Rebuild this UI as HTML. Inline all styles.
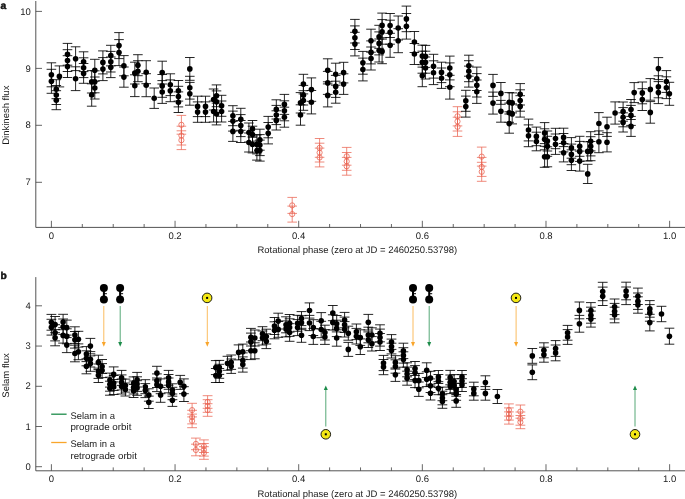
<!DOCTYPE html><html><head><meta charset="utf-8"><title>Figure</title>
<style>html,body{margin:0;padding:0;background:#fff}svg{display:block;text-rendering:geometricPrecision}text{font-family:"Liberation Sans",Arial,Helvetica,sans-serif;fill:#1a1a1a}</style></head><body>
<svg width="685" height="499" viewBox="0 0 685 499">
<rect width="685" height="499" fill="#fff"/>
<g stroke="#404040" stroke-width="0.9" fill="none">
<path d="M35.8 1 V227.4 H685"/>
<path d="M35.8 11.4 h6.2M35.8 68.4 h6.2M35.8 125.3 h6.2M35.8 182.3 h6.2M51.4 227.4 v-6.6M82.31 227.4 v-3.4M113.22 227.4 v-3.4M144.14 227.4 v-3.4M175.05 227.4 v-6.6M205.96 227.4 v-3.4M236.87 227.4 v-3.4M267.78 227.4 v-3.4M298.7 227.4 v-6.6M329.61 227.4 v-3.4M360.52 227.4 v-3.4M391.43 227.4 v-3.4M422.34 227.4 v-6.6M453.26 227.4 v-3.4M484.17 227.4 v-3.4M515.08 227.4 v-3.4M545.99 227.4 v-6.6M576.9 227.4 v-3.4M607.82 227.4 v-3.4M638.73 227.4 v-3.4M669.64 227.4 v-6.6" stroke-width="0.8"/>
</g>
<g font-size="9.5">
<text x="30.8" y="14.5" text-anchor="end">10</text>
<text x="30.8" y="71.5" text-anchor="end">9</text>
<text x="30.8" y="128.4" text-anchor="end">8</text>
<text x="30.8" y="185.4" text-anchor="end">7</text>
<text x="51.4" y="238.8" text-anchor="middle">0</text>
<text x="175.05" y="238.8" text-anchor="middle">0.2</text>
<text x="298.7" y="238.8" text-anchor="middle">0.4</text>
<text x="422.34" y="238.8" text-anchor="middle">0.6</text>
<text x="545.99" y="238.8" text-anchor="middle">0.8</text>
<text x="669.64" y="238.8" text-anchor="middle">1.0</text>
<text x="257.4" y="253.4" textLength="199.8" lengthAdjust="spacingAndGlyphs">Rotational phase (zero at JD = 2460250.53798)</text>
<text transform="translate(8.9 115.2) rotate(-90)" text-anchor="middle">Dinkinesh flux</text>
</g>
<text x="0.5" y="8.8" font-size="10.2" font-weight="bold" fill="#000" stroke="#000" stroke-width="0.45">a</text>
<path d="M181.4 115.4V134.2M176.6 115.4h9.6M176.6 134.2h9.6M181.4 126.2V145M176.6 126.2h9.6M176.6 145h9.6M181.4 130.8V149.6M176.6 130.8h9.6M176.6 149.6h9.6M292.2 197.4V213.4M287.4 197.4h9.6M287.4 213.4h9.6M292.2 206.1V222.1M287.4 206.1h9.6M287.4 222.1h9.6M319.6 138.5V157.3M314.8 138.5h9.6M314.8 157.3h9.6M319.6 143.2V162M314.8 143.2h9.6M314.8 162h9.6M319.6 148.1V166.9M314.8 148.1h9.6M314.8 166.9h9.6M346.7 147.4V165.2M341.9 147.4h9.6M341.9 165.2h9.6M346.7 152.5V170.3M341.9 152.5h9.6M341.9 170.3h9.6M346.7 157.4V175.2M341.9 157.4h9.6M341.9 175.2h9.6M457.5 106.7V125.9M452.7 106.7h9.6M452.7 125.9h9.6M457.5 111.8V131M452.7 111.8h9.6M452.7 131h9.6M457.5 117.2V136.4M452.7 117.2h9.6M452.7 136.4h9.6M481.7 147.1V166.1M476.9 147.1h9.6M476.9 166.1h9.6M481.7 157.4V176.4M476.9 157.4h9.6M476.9 176.4h9.6M481.7 162.3V181.3M476.9 162.3h9.6M476.9 181.3h9.6" stroke="#ea6352" stroke-width="0.75" fill="none"/>
<g fill="none" stroke="#ea6352" stroke-width="0.8">
<circle cx="181.4" cy="124.8" r="2.6"/>
<circle cx="181.4" cy="135.6" r="2.6"/>
<circle cx="181.4" cy="140.2" r="2.6"/>
<circle cx="292.2" cy="205.4" r="2.6"/>
<circle cx="292.2" cy="214.1" r="2.6"/>
<circle cx="319.6" cy="147.9" r="2.6"/>
<circle cx="319.6" cy="152.6" r="2.6"/>
<circle cx="319.6" cy="157.5" r="2.6"/>
<circle cx="346.7" cy="156.3" r="2.6"/>
<circle cx="346.7" cy="161.4" r="2.6"/>
<circle cx="346.7" cy="166.3" r="2.6"/>
<circle cx="457.5" cy="116.3" r="2.6"/>
<circle cx="457.5" cy="121.4" r="2.6"/>
<circle cx="457.5" cy="126.8" r="2.6"/>
<circle cx="481.7" cy="156.6" r="2.6"/>
<circle cx="481.7" cy="166.9" r="2.6"/>
<circle cx="481.7" cy="171.8" r="2.6"/>
</g>
<path d="M51.4 62.8V86.8M46.6 62.8h9.6M46.6 86.8h9.6M51.4 69.3V93.3M46.6 69.3h9.6M46.6 93.3h9.6M56.3 79.7V98.7M51.5 79.7h9.6M51.5 98.7h9.6M56.3 85.5V104.5M51.5 85.5h9.6M51.5 104.5h9.6M56.3 90.7V109.7M51.5 90.7h9.6M51.5 109.7h9.6M59.4 65.9V86.9M54.6 65.9h9.6M54.6 86.9h9.6M67.5 43.4V65.2M62.7 43.4h9.6M62.7 65.2h9.6M67.5 49.7V71.5M62.7 49.7h9.6M62.7 71.5h9.6M67.5 55.7V77.5M62.7 55.7h9.6M62.7 77.5h9.6M75.6 46.8V70.6M70.8 46.8h9.6M70.8 70.6h9.6M75.6 66.8V90.6M70.8 66.8h9.6M70.8 90.6h9.6M83.6 51.8V71.6M78.8 51.8h9.6M78.8 71.6h9.6M83.6 57.8V77.6M78.8 57.8h9.6M78.8 77.6h9.6M83.6 63.5V83.3M78.8 63.5h9.6M78.8 83.3h9.6M91.7 70.6V93M86.9 70.6h9.6M86.9 93h9.6M91.7 83.8V106.2M86.9 83.8h9.6M86.9 106.2h9.6M94.8 59.3V81.3M90 59.3h9.6M90 81.3h9.6M94.8 70.8V92.8M90 70.8h9.6M90 92.8h9.6M94.8 77V99M90 77h9.6M90 99h9.6M102.9 50.9V73.9M98.1 50.9h9.6M98.1 73.9h9.6M102.9 57.6V80.6M98.1 57.6h9.6M98.1 80.6h9.6M110.8 45.3V65.9M106 45.3h9.6M106 65.9h9.6M110.8 51.4V72M106 51.4h9.6M106 72h9.6M110.8 57V77.6M106 57h9.6M106 77.6h9.6M119 32.6V58.6M114.2 32.6h9.6M114.2 58.6h9.6M119 39.6V65.6M114.2 39.6h9.6M114.2 65.6h9.6M123.9 55.6V75.8M119.1 55.6h9.6M119.1 75.8h9.6M123.9 67V87.2M119.1 67h9.6M119.1 87.2h9.6M134.8 62.2V84M130 62.2h9.6M130 84h9.6M134.8 74.8V96.6M130 74.8h9.6M130 96.6h9.6M137.9 54.7V75.7M133.1 54.7h9.6M133.1 75.7h9.6M137.9 60.7V81.7M133.1 60.7h9.6M133.1 81.7h9.6M146.2 60.7V83.7M141.4 60.7h9.6M141.4 83.7h9.6M146.2 73.7V96.7M141.4 73.7h9.6M141.4 96.7h9.6M154.2 88V108.4M149.4 88h9.6M149.4 108.4h9.6M162.2 61.2V84M157.4 61.2h9.6M157.4 84h9.6M162.2 74.5V97.3M157.4 74.5h9.6M157.4 97.3h9.6M162.2 80.6V103.4M157.4 80.6h9.6M157.4 103.4h9.6M170.3 73.8V95.6M165.5 73.8h9.6M165.5 95.6h9.6M170.3 79.9V101.7M165.5 79.9h9.6M165.5 101.7h9.6M178.4 80.5V101.1M173.6 80.5h9.6M173.6 101.1h9.6M178.4 86.3V106.9M173.6 86.3h9.6M173.6 106.9h9.6M178.4 91.9V112.5M173.6 91.9h9.6M173.6 112.5h9.6M189.8 57.5V80.3M185 57.5h9.6M185 80.3h9.6M189.8 76.3V99.1M185 76.3h9.6M185 99.1h9.6M189.8 82.4V105.2M185 82.4h9.6M185 105.2h9.6M197.6 96.2V116.6M192.8 96.2h9.6M192.8 116.6h9.6M197.6 101.9V122.3M192.8 101.9h9.6M192.8 122.3h9.6M205.5 96.2V116.6M200.7 96.2h9.6M200.7 116.6h9.6M205.5 101.9V122.3M200.7 101.9h9.6M200.7 122.3h9.6M213.6 89V110M208.8 89h9.6M208.8 110h9.6M213.6 101V122M208.8 101h9.6M208.8 122h9.6M216.5 84.9V106.7M211.7 84.9h9.6M211.7 106.7h9.6M216.5 90.9V112.7M211.7 90.9h9.6M211.7 112.7h9.6M216.5 103.1V124.9M211.7 103.1h9.6M211.7 124.9h9.6M221.6 95.3V116.3M216.8 95.3h9.6M216.8 116.3h9.6M221.6 101V122M216.8 101h9.6M216.8 122h9.6M232.9 105.7V125.7M228.1 105.7h9.6M228.1 125.7h9.6M232.9 111.1V131.1M228.1 111.1h9.6M228.1 131.1h9.6M232.9 121.4V141.4M228.1 121.4h9.6M228.1 141.4h9.6M240.8 108.3V130.3M236 108.3h9.6M236 130.3h9.6M240.8 114.6V136.6M236 114.6h9.6M236 136.6h9.6M240.8 120.5V142.5M236 120.5h9.6M236 142.5h9.6M248.9 123V142M244.1 123h9.6M244.1 142h9.6M248.9 133V152M244.1 133h9.6M244.1 152h9.6M252.5 120.5V137.3M247.7 120.5h9.6M247.7 137.3h9.6M252.5 126.2V143M247.7 126.2h9.6M247.7 143h9.6M252.5 136.1V152.9M247.7 136.1h9.6M247.7 152.9h9.6M256.9 134.9V153.9M252.1 134.9h9.6M252.1 153.9h9.6M256.9 141.1V160.1M252.1 141.1h9.6M252.1 160.1h9.6M259.9 129.2V150.2M255.1 129.2h9.6M255.1 150.2h9.6M259.9 134.6V155.6M255.1 134.6h9.6M255.1 155.6h9.6M259.9 140.1V161.1M255.1 140.1h9.6M255.1 161.1h9.6M268.2 116.4V137.8M263.4 116.4h9.6M263.4 137.8h9.6M268.2 122.5V143.9M263.4 122.5h9.6M263.4 143.9h9.6M276.3 99.8V119M271.5 99.8h9.6M271.5 119h9.6M276.3 105.4V124.6M271.5 105.4h9.6M271.5 124.6h9.6M276.3 110.8V130M271.5 110.8h9.6M271.5 130h9.6M284.4 94.4V114.4M279.6 94.4h9.6M279.6 114.4h9.6M284.4 100.8V120.8M279.6 100.8h9.6M279.6 120.8h9.6M284.4 107.2V127.2M279.6 107.2h9.6M279.6 127.2h9.6M300.5 92.6V113M295.7 92.6h9.6M295.7 113h9.6M300.5 104.8V125.2M295.7 104.8h9.6M295.7 125.2h9.6M303.4 74.3V93.9M298.6 74.3h9.6M298.6 93.9h9.6M303.4 85.4V105M298.6 85.4h9.6M298.6 105h9.6M303.4 90.7V110.3M298.6 90.7h9.6M298.6 110.3h9.6M311.4 77.9V101.3M306.6 77.9h9.6M306.6 101.3h9.6M311.4 90.5V113.9M306.6 90.5h9.6M306.6 113.9h9.6M327.7 58.8V81.8M322.9 58.8h9.6M322.9 81.8h9.6M327.7 71.4V94.4M322.9 71.4h9.6M322.9 94.4h9.6M327.7 83.9V106.9M322.9 83.9h9.6M322.9 106.9h9.6M335.7 63.2V85.2M330.9 63.2h9.6M330.9 85.2h9.6M335.7 75.4V97.4M330.9 75.4h9.6M330.9 97.4h9.6M335.7 81.2V103.2M330.9 81.2h9.6M330.9 103.2h9.6M343.6 62.3V82.9M338.8 62.3h9.6M338.8 82.9h9.6M343.6 73.8V94.4M338.8 73.8h9.6M338.8 94.4h9.6M354.9 19.4V43M350.1 19.4h9.6M350.1 43h9.6M354.9 25.9V49.5M350.1 25.9h9.6M350.1 49.5h9.6M354.9 32.3V55.9M350.1 32.3h9.6M350.1 55.9h9.6M362.9 51.4V74.2M358.1 51.4h9.6M358.1 74.2h9.6M362.9 58.1V80.9M358.1 58.1h9.6M358.1 80.9h9.6M371 29.2V52.2M366.2 29.2h9.6M366.2 52.2h9.6M371 40.9V63.9M366.2 40.9h9.6M366.2 63.9h9.6M371 47V70M366.2 47h9.6M366.2 70h9.6M379.1 25.3V48.3M374.3 25.3h9.6M374.3 48.3h9.6M379.1 31.9V54.9M374.3 31.9h9.6M374.3 54.9h9.6M379.1 39V62M374.3 39h9.6M374.3 62h9.6M382.1 13.1V37.7M377.3 13.1h9.6M377.3 37.7h9.6M382.1 19.6V44.2M377.3 19.6h9.6M377.3 44.2h9.6M382.1 39.1V63.7M377.3 39.1h9.6M377.3 63.7h9.6M390.1 13.5V37.5M385.3 13.5h9.6M385.3 37.5h9.6M390.1 20.2V44.2M385.3 20.2h9.6M385.3 44.2h9.6M390.1 33.3V57.3M385.3 33.3h9.6M385.3 57.3h9.6M398.2 16V40M393.4 16h9.6M393.4 40h9.6M398.2 28.7V52.7M393.4 28.7h9.6M393.4 52.7h9.6M406.4 6.1V31.7M401.6 6.1h9.6M401.6 31.7h9.6M406.4 13.5V39.1M401.6 13.5h9.6M401.6 39.1h9.6M414.4 31.5V52.5M409.6 31.5h9.6M409.6 52.5h9.6M414.4 43.5V64.5M409.6 43.5h9.6M409.6 64.5h9.6M422.3 45.1V67.1M417.5 45.1h9.6M417.5 67.1h9.6M422.3 51.2V73.2M417.5 51.2h9.6M417.5 73.2h9.6M422.3 64.7V86.7M417.5 64.7h9.6M417.5 86.7h9.6M425.5 45.4V67.4M420.7 45.4h9.6M420.7 67.4h9.6M425.5 51.2V73.2M420.7 51.2h9.6M420.7 73.2h9.6M425.5 57V79M420.7 57h9.6M420.7 79h9.6M433.5 54.3V78.1M428.7 54.3h9.6M428.7 78.1h9.6M433.5 60.8V84.6M428.7 60.8h9.6M428.7 84.6h9.6M441.5 62.2V82.6M436.7 62.2h9.6M436.7 82.6h9.6M441.5 68V88.4M436.7 68h9.6M436.7 88.4h9.6M449.8 56.1V79.9M445 56.1h9.6M445 79.9h9.6M449.8 62.9V86.7M445 62.9h9.6M445 86.7h9.6M449.8 75.3V99.1M445 75.3h9.6M445 99.1h9.6M465.8 90.3V111.3M461 90.3h9.6M461 111.3h9.6M465.8 96.1V117.1M461 96.1h9.6M461 117.1h9.6M468.8 55.2V76.2M464 55.2h9.6M464 76.2h9.6M468.8 60.7V81.7M464 60.7h9.6M464 81.7h9.6M468.8 66.1V87.1M464 66.1h9.6M464 87.1h9.6M476.8 67.1V90.5M472 67.1h9.6M472 90.5h9.6M476.8 73.6V97M472 73.6h9.6M472 97h9.6M476.8 80V103.4M472 80h9.6M472 103.4h9.6M493 74.4V96.4M488.2 74.4h9.6M488.2 96.4h9.6M493 92.1V114.1M488.2 92.1h9.6M488.2 114.1h9.6M500.9 82.5V104.3M496.1 82.5h9.6M496.1 104.3h9.6M500.9 100.4V122.2M496.1 100.4h9.6M496.1 122.2h9.6M509.2 92.6V111.8M504.4 92.6h9.6M504.4 111.8h9.6M509.2 103.1V122.3M504.4 103.1h9.6M504.4 122.3h9.6M509.2 114V133.2M504.4 114h9.6M504.4 133.2h9.6M512.2 92.9V112.9M507.4 92.9h9.6M507.4 112.9h9.6M512.2 103.9V123.9M507.4 103.9h9.6M507.4 123.9h9.6M520.2 83.6V105M515.4 83.6h9.6M515.4 105h9.6M520.2 89.8V111.2M515.4 89.8h9.6M515.4 111.2h9.6M520.2 95.7V117.1M515.4 95.7h9.6M515.4 117.1h9.6M528.5 119.1V140.9M523.7 119.1h9.6M523.7 140.9h9.6M528.5 124.9V146.7M523.7 124.9h9.6M523.7 146.7h9.6M536.4 127.1V145.7M531.6 127.1h9.6M531.6 145.7h9.6M536.4 132.2V150.8M531.6 132.2h9.6M531.6 150.8h9.6M544.6 122.6V143.6M539.8 122.6h9.6M539.8 143.6h9.6M544.6 128.8V149.8M539.8 128.8h9.6M539.8 149.8h9.6M544.6 146.3V167.3M539.8 146.3h9.6M539.8 167.3h9.6M547.4 131V151M542.6 131h9.6M542.6 151h9.6M547.4 136.3V156.3M542.6 136.3h9.6M542.6 156.3h9.6M547.4 146.8V166.8M542.6 146.8h9.6M542.6 166.8h9.6M555.5 128.3V148.7M550.7 128.3h9.6M550.7 148.7h9.6M555.5 134V154.4M550.7 134h9.6M550.7 154.4h9.6M563.6 128.2V146.6M558.8 128.2h9.6M558.8 146.6h9.6M563.6 133.5V151.9M558.8 133.5h9.6M558.8 151.9h9.6M563.6 143.5V161.9M558.8 143.5h9.6M558.8 161.9h9.6M571.4 137.6V158.2M566.6 137.6h9.6M566.6 158.2h9.6M571.4 144.1V164.7M566.6 144.1h9.6M566.6 164.7h9.6M571.4 149.9V170.5M566.6 149.9h9.6M566.6 170.5h9.6M579.7 136.3V156.3M574.9 136.3h9.6M574.9 156.3h9.6M579.7 141.4V161.4M574.9 141.4h9.6M574.9 161.4h9.6M579.7 151.1V171.1M574.9 151.1h9.6M574.9 171.1h9.6M587.7 141.8V161M582.9 141.8h9.6M582.9 161h9.6M587.7 164.3V183.5M582.9 164.3h9.6M582.9 183.5h9.6M590.7 131.7V150.9M585.9 131.7h9.6M585.9 150.9h9.6M590.7 136.7V155.9M585.9 136.7h9.6M585.9 155.9h9.6M590.7 141.5V160.7M585.9 141.5h9.6M585.9 160.7h9.6M598.9 112.6V134.4M594.1 112.6h9.6M594.1 134.4h9.6M598.9 130.9V152.7M594.1 130.9h9.6M594.1 152.7h9.6M607 117.2V136.4M602.2 117.2h9.6M602.2 136.4h9.6M607 132.7V151.9M602.2 132.7h9.6M602.2 151.9h9.6M615.1 101.9V124.1M610.3 101.9h9.6M610.3 124.1h9.6M623.1 102V121.2M618.3 102h9.6M618.3 121.2h9.6M623.1 107.6V126.8M618.3 107.6h9.6M618.3 126.8h9.6M623.1 112.8V132M618.3 112.8h9.6M618.3 132h9.6M631 99.5V119.5M626.2 99.5h9.6M626.2 119.5h9.6M631 105.4V125.4M626.2 105.4h9.6M626.2 125.4h9.6M631 116.4V136.4M626.2 116.4h9.6M626.2 136.4h9.6M634.2 82.6V102.6M629.4 82.6h9.6M629.4 102.6h9.6M642.3 82V103.8M637.5 82h9.6M637.5 103.8h9.6M642.3 88.7V110.5M637.5 88.7h9.6M637.5 110.5h9.6M650.3 78.6V100.2M645.5 78.6h9.6M645.5 100.2h9.6M650.3 101.6V123.2M645.5 101.6h9.6M645.5 123.2h9.6M658.4 57.6V79.6M653.6 57.6h9.6M653.6 79.6h9.6M658.4 75.8V97.8M653.6 75.8h9.6M653.6 97.8h9.6M658.4 81.6V103.6M653.6 81.6h9.6M653.6 103.6h9.6M666.4 70.6V92.4M661.6 70.6h9.6M661.6 92.4h9.6M666.4 76.8V98.6M661.6 76.8h9.6M661.6 98.6h9.6M669.4 82.3V105.3M664.6 82.3h9.6M664.6 105.3h9.6" stroke="#000" stroke-width="0.85" fill="none"/>
<g fill="#000">
<circle cx="51.4" cy="74.8" r="2.8"/>
<circle cx="51.4" cy="81.3" r="2.8"/>
<circle cx="56.3" cy="89.2" r="2.8"/>
<circle cx="56.3" cy="95" r="2.8"/>
<circle cx="56.3" cy="100.2" r="2.8"/>
<circle cx="59.4" cy="76.4" r="2.8"/>
<circle cx="67.5" cy="54.3" r="2.8"/>
<circle cx="67.5" cy="60.6" r="2.8"/>
<circle cx="67.5" cy="66.6" r="2.8"/>
<circle cx="75.6" cy="58.7" r="2.8"/>
<circle cx="75.6" cy="78.7" r="2.8"/>
<circle cx="83.6" cy="61.7" r="2.8"/>
<circle cx="83.6" cy="67.7" r="2.8"/>
<circle cx="83.6" cy="73.4" r="2.8"/>
<circle cx="91.7" cy="81.8" r="2.8"/>
<circle cx="91.7" cy="95" r="2.8"/>
<circle cx="94.8" cy="70.3" r="2.8"/>
<circle cx="94.8" cy="81.8" r="2.8"/>
<circle cx="94.8" cy="88" r="2.8"/>
<circle cx="102.9" cy="62.4" r="2.8"/>
<circle cx="102.9" cy="69.1" r="2.8"/>
<circle cx="110.8" cy="55.6" r="2.8"/>
<circle cx="110.8" cy="61.7" r="2.8"/>
<circle cx="110.8" cy="67.3" r="2.8"/>
<circle cx="119" cy="45.6" r="2.8"/>
<circle cx="119" cy="52.6" r="2.8"/>
<circle cx="123.9" cy="65.7" r="2.8"/>
<circle cx="123.9" cy="77.1" r="2.8"/>
<circle cx="134.8" cy="73.1" r="2.8"/>
<circle cx="134.8" cy="85.7" r="2.8"/>
<circle cx="137.9" cy="65.2" r="2.8"/>
<circle cx="137.9" cy="71.2" r="2.8"/>
<circle cx="146.2" cy="72.2" r="2.8"/>
<circle cx="146.2" cy="85.2" r="2.8"/>
<circle cx="154.2" cy="98.2" r="2.8"/>
<circle cx="162.2" cy="72.6" r="2.8"/>
<circle cx="162.2" cy="85.9" r="2.8"/>
<circle cx="162.2" cy="92" r="2.8"/>
<circle cx="170.3" cy="84.7" r="2.8"/>
<circle cx="170.3" cy="90.8" r="2.8"/>
<circle cx="178.4" cy="90.8" r="2.8"/>
<circle cx="178.4" cy="96.6" r="2.8"/>
<circle cx="178.4" cy="102.2" r="2.8"/>
<circle cx="189.8" cy="68.9" r="2.8"/>
<circle cx="189.8" cy="87.7" r="2.8"/>
<circle cx="189.8" cy="93.8" r="2.8"/>
<circle cx="197.6" cy="106.4" r="2.8"/>
<circle cx="197.6" cy="112.1" r="2.8"/>
<circle cx="205.5" cy="106.4" r="2.8"/>
<circle cx="205.5" cy="112.1" r="2.8"/>
<circle cx="213.6" cy="99.5" r="2.8"/>
<circle cx="213.6" cy="111.5" r="2.8"/>
<circle cx="216.5" cy="95.8" r="2.8"/>
<circle cx="216.5" cy="101.8" r="2.8"/>
<circle cx="216.5" cy="114" r="2.8"/>
<circle cx="221.6" cy="105.8" r="2.8"/>
<circle cx="221.6" cy="111.5" r="2.8"/>
<circle cx="232.9" cy="115.7" r="2.8"/>
<circle cx="232.9" cy="121.1" r="2.8"/>
<circle cx="232.9" cy="131.4" r="2.8"/>
<circle cx="240.8" cy="119.3" r="2.8"/>
<circle cx="240.8" cy="125.6" r="2.8"/>
<circle cx="240.8" cy="131.5" r="2.8"/>
<circle cx="248.9" cy="132.5" r="2.8"/>
<circle cx="248.9" cy="142.5" r="2.8"/>
<circle cx="252.5" cy="128.9" r="2.8"/>
<circle cx="252.5" cy="134.6" r="2.8"/>
<circle cx="252.5" cy="144.5" r="2.8"/>
<circle cx="256.9" cy="144.4" r="2.8"/>
<circle cx="256.9" cy="150.6" r="2.8"/>
<circle cx="259.9" cy="139.7" r="2.8"/>
<circle cx="259.9" cy="145.1" r="2.8"/>
<circle cx="259.9" cy="150.6" r="2.8"/>
<circle cx="268.2" cy="127.1" r="2.8"/>
<circle cx="268.2" cy="133.2" r="2.8"/>
<circle cx="276.3" cy="109.4" r="2.8"/>
<circle cx="276.3" cy="115" r="2.8"/>
<circle cx="276.3" cy="120.4" r="2.8"/>
<circle cx="284.4" cy="104.4" r="2.8"/>
<circle cx="284.4" cy="110.8" r="2.8"/>
<circle cx="284.4" cy="117.2" r="2.8"/>
<circle cx="300.5" cy="102.8" r="2.8"/>
<circle cx="300.5" cy="115" r="2.8"/>
<circle cx="303.4" cy="84.1" r="2.8"/>
<circle cx="303.4" cy="95.2" r="2.8"/>
<circle cx="303.4" cy="100.5" r="2.8"/>
<circle cx="311.4" cy="89.6" r="2.8"/>
<circle cx="311.4" cy="102.2" r="2.8"/>
<circle cx="327.7" cy="70.3" r="2.8"/>
<circle cx="327.7" cy="82.9" r="2.8"/>
<circle cx="327.7" cy="95.4" r="2.8"/>
<circle cx="335.7" cy="74.2" r="2.8"/>
<circle cx="335.7" cy="86.4" r="2.8"/>
<circle cx="335.7" cy="92.2" r="2.8"/>
<circle cx="343.6" cy="72.6" r="2.8"/>
<circle cx="343.6" cy="84.1" r="2.8"/>
<circle cx="354.9" cy="31.2" r="2.8"/>
<circle cx="354.9" cy="37.7" r="2.8"/>
<circle cx="354.9" cy="44.1" r="2.8"/>
<circle cx="362.9" cy="62.8" r="2.8"/>
<circle cx="362.9" cy="69.5" r="2.8"/>
<circle cx="371" cy="40.7" r="2.8"/>
<circle cx="371" cy="52.4" r="2.8"/>
<circle cx="371" cy="58.5" r="2.8"/>
<circle cx="379.1" cy="36.8" r="2.8"/>
<circle cx="379.1" cy="43.4" r="2.8"/>
<circle cx="379.1" cy="50.5" r="2.8"/>
<circle cx="382.1" cy="25.4" r="2.8"/>
<circle cx="382.1" cy="31.9" r="2.8"/>
<circle cx="382.1" cy="51.4" r="2.8"/>
<circle cx="390.1" cy="25.5" r="2.8"/>
<circle cx="390.1" cy="32.2" r="2.8"/>
<circle cx="390.1" cy="45.3" r="2.8"/>
<circle cx="398.2" cy="28" r="2.8"/>
<circle cx="398.2" cy="40.7" r="2.8"/>
<circle cx="406.4" cy="18.9" r="2.8"/>
<circle cx="406.4" cy="26.3" r="2.8"/>
<circle cx="414.4" cy="42" r="2.8"/>
<circle cx="414.4" cy="54" r="2.8"/>
<circle cx="422.3" cy="56.1" r="2.8"/>
<circle cx="422.3" cy="62.2" r="2.8"/>
<circle cx="422.3" cy="75.7" r="2.8"/>
<circle cx="425.5" cy="56.4" r="2.8"/>
<circle cx="425.5" cy="62.2" r="2.8"/>
<circle cx="425.5" cy="68" r="2.8"/>
<circle cx="433.5" cy="66.2" r="2.8"/>
<circle cx="433.5" cy="72.7" r="2.8"/>
<circle cx="441.5" cy="72.4" r="2.8"/>
<circle cx="441.5" cy="78.2" r="2.8"/>
<circle cx="449.8" cy="68" r="2.8"/>
<circle cx="449.8" cy="74.8" r="2.8"/>
<circle cx="449.8" cy="87.2" r="2.8"/>
<circle cx="465.8" cy="100.8" r="2.8"/>
<circle cx="465.8" cy="106.6" r="2.8"/>
<circle cx="468.8" cy="65.7" r="2.8"/>
<circle cx="468.8" cy="71.2" r="2.8"/>
<circle cx="468.8" cy="76.6" r="2.8"/>
<circle cx="476.8" cy="78.8" r="2.8"/>
<circle cx="476.8" cy="85.3" r="2.8"/>
<circle cx="476.8" cy="91.7" r="2.8"/>
<circle cx="493" cy="85.4" r="2.8"/>
<circle cx="493" cy="103.1" r="2.8"/>
<circle cx="500.9" cy="93.4" r="2.8"/>
<circle cx="500.9" cy="111.3" r="2.8"/>
<circle cx="509.2" cy="102.2" r="2.8"/>
<circle cx="509.2" cy="112.7" r="2.8"/>
<circle cx="509.2" cy="123.6" r="2.8"/>
<circle cx="512.2" cy="102.9" r="2.8"/>
<circle cx="512.2" cy="113.9" r="2.8"/>
<circle cx="520.2" cy="94.3" r="2.8"/>
<circle cx="520.2" cy="100.5" r="2.8"/>
<circle cx="520.2" cy="106.4" r="2.8"/>
<circle cx="528.5" cy="130" r="2.8"/>
<circle cx="528.5" cy="135.8" r="2.8"/>
<circle cx="536.4" cy="136.4" r="2.8"/>
<circle cx="536.4" cy="141.5" r="2.8"/>
<circle cx="544.6" cy="133.1" r="2.8"/>
<circle cx="544.6" cy="139.3" r="2.8"/>
<circle cx="544.6" cy="156.8" r="2.8"/>
<circle cx="547.4" cy="141" r="2.8"/>
<circle cx="547.4" cy="146.3" r="2.8"/>
<circle cx="547.4" cy="156.8" r="2.8"/>
<circle cx="555.5" cy="138.5" r="2.8"/>
<circle cx="555.5" cy="144.2" r="2.8"/>
<circle cx="563.6" cy="137.4" r="2.8"/>
<circle cx="563.6" cy="142.7" r="2.8"/>
<circle cx="563.6" cy="152.7" r="2.8"/>
<circle cx="571.4" cy="147.9" r="2.8"/>
<circle cx="571.4" cy="154.4" r="2.8"/>
<circle cx="571.4" cy="160.2" r="2.8"/>
<circle cx="579.7" cy="146.3" r="2.8"/>
<circle cx="579.7" cy="151.4" r="2.8"/>
<circle cx="579.7" cy="161.1" r="2.8"/>
<circle cx="587.7" cy="151.4" r="2.8"/>
<circle cx="587.7" cy="173.9" r="2.8"/>
<circle cx="590.7" cy="141.3" r="2.8"/>
<circle cx="590.7" cy="146.3" r="2.8"/>
<circle cx="590.7" cy="151.1" r="2.8"/>
<circle cx="598.9" cy="123.5" r="2.8"/>
<circle cx="598.9" cy="141.8" r="2.8"/>
<circle cx="607" cy="126.8" r="2.8"/>
<circle cx="607" cy="142.3" r="2.8"/>
<circle cx="615.1" cy="113" r="2.8"/>
<circle cx="623.1" cy="111.6" r="2.8"/>
<circle cx="623.1" cy="117.2" r="2.8"/>
<circle cx="623.1" cy="122.4" r="2.8"/>
<circle cx="631" cy="109.5" r="2.8"/>
<circle cx="631" cy="115.4" r="2.8"/>
<circle cx="631" cy="126.4" r="2.8"/>
<circle cx="634.2" cy="92.6" r="2.8"/>
<circle cx="642.3" cy="92.9" r="2.8"/>
<circle cx="642.3" cy="99.6" r="2.8"/>
<circle cx="650.3" cy="89.4" r="2.8"/>
<circle cx="650.3" cy="112.4" r="2.8"/>
<circle cx="658.4" cy="68.6" r="2.8"/>
<circle cx="658.4" cy="86.8" r="2.8"/>
<circle cx="658.4" cy="92.6" r="2.8"/>
<circle cx="666.4" cy="81.5" r="2.8"/>
<circle cx="666.4" cy="87.7" r="2.8"/>
<circle cx="669.4" cy="93.8" r="2.8"/>
</g>
<g stroke="#404040" stroke-width="0.9" fill="none">
<path d="M35.8 277.1 V470.8 H685"/>
<path d="M35.8 305.8 h6.2M35.8 346.05 h6.2M35.8 386.3 h6.2M35.8 426.5 h6.2M35.8 466.7 h6.2M51.4 470.8 v-6.6M82.31 470.8 v-3.4M113.22 470.8 v-3.4M144.14 470.8 v-3.4M175.05 470.8 v-6.6M205.96 470.8 v-3.4M236.87 470.8 v-3.4M267.78 470.8 v-3.4M298.7 470.8 v-6.6M329.61 470.8 v-3.4M360.52 470.8 v-3.4M391.43 470.8 v-3.4M422.34 470.8 v-6.6M453.26 470.8 v-3.4M484.17 470.8 v-3.4M515.08 470.8 v-3.4M545.99 470.8 v-6.6M576.9 470.8 v-3.4M607.82 470.8 v-3.4M638.73 470.8 v-3.4M669.64 470.8 v-6.6" stroke-width="0.8"/>
</g>
<g font-size="9.5">
<text x="30.8" y="308.9" text-anchor="end">4</text>
<text x="30.8" y="349.15" text-anchor="end">3</text>
<text x="30.8" y="389.4" text-anchor="end">2</text>
<text x="30.8" y="429.6" text-anchor="end">1</text>
<text x="30.8" y="469.8" text-anchor="end">0</text>
<text x="51.4" y="482.2" text-anchor="middle">0</text>
<text x="175.05" y="482.2" text-anchor="middle">0.2</text>
<text x="298.7" y="482.2" text-anchor="middle">0.4</text>
<text x="422.34" y="482.2" text-anchor="middle">0.6</text>
<text x="545.99" y="482.2" text-anchor="middle">0.8</text>
<text x="669.64" y="482.2" text-anchor="middle">1.0</text>
<text x="257.4" y="496.5" textLength="199.8" lengthAdjust="spacingAndGlyphs">Rotational phase (zero at JD = 2460250.53798)</text>
<text transform="translate(8.9 375.5) rotate(-90)" text-anchor="middle">Selam flux</text>
</g>
<text x="0.5" y="278.9" font-size="10.2" font-weight="bold" fill="#000" stroke="#000" stroke-width="0.45">b</text>
<path d="M192.1 403.3V416.9M187.2 403.3h9.8M187.2 416.9h9.8M192.1 410.3V423.9M187.2 410.3h9.8M187.2 423.9h9.8M192.1 414.1V427.7M187.2 414.1h9.8M187.2 427.7h9.8M195.9 438.1V449.7M191 438.1h9.8M191 449.7h9.8M195.9 444.2V455.8M191 444.2h9.8M191 455.8h9.8M203.9 439.9V452.5M199 439.9h9.8M199 452.5h9.8M203.9 443.5V456.1M199 443.5h9.8M199 456.1h9.8M203.9 446.7V459.3M199 446.7h9.8M199 459.3h9.8M207.6 395.7V408.3M202.7 395.7h9.8M202.7 408.3h9.8M207.6 399.7V412.3M202.7 399.7h9.8M202.7 412.3h9.8M207.6 403.7V416.3M202.7 403.7h9.8M202.7 416.3h9.8M508.9 403.9V416.1M504 403.9h9.8M504 416.1h9.8M508.9 407.9V420.1M504 407.9h9.8M504 420.1h9.8M508.9 411.9V424.1M504 411.9h9.8M504 424.1h9.8M520.4 405V418.2M515.5 405h9.8M515.5 418.2h9.8M520.4 412V425.2M515.5 412h9.8M515.5 425.2h9.8M520.4 415.5V428.7M515.5 415.5h9.8M515.5 428.7h9.8" stroke="#ea6352" stroke-width="0.75" fill="none"/>
<g fill="none" stroke="#ea6352" stroke-width="0.8">
<circle cx="192.1" cy="410.1" r="2.6"/>
<circle cx="192.1" cy="417.1" r="2.6"/>
<circle cx="192.1" cy="420.9" r="2.6"/>
<circle cx="195.9" cy="443.9" r="2.6"/>
<circle cx="195.9" cy="450" r="2.6"/>
<circle cx="203.9" cy="446.2" r="2.6"/>
<circle cx="203.9" cy="449.8" r="2.6"/>
<circle cx="203.9" cy="453" r="2.6"/>
<circle cx="207.6" cy="402" r="2.6"/>
<circle cx="207.6" cy="406" r="2.6"/>
<circle cx="207.6" cy="410" r="2.6"/>
<circle cx="508.9" cy="410" r="2.6"/>
<circle cx="508.9" cy="414" r="2.6"/>
<circle cx="508.9" cy="418" r="2.6"/>
<circle cx="520.4" cy="411.6" r="2.6"/>
<circle cx="520.4" cy="418.6" r="2.6"/>
<circle cx="520.4" cy="422.1" r="2.6"/>
</g>
<path d="M51.4 314.4V330.2M46.5 314.4h9.8M46.5 330.2h9.8M51.4 319.3V335.1M46.5 319.3h9.8M46.5 335.1h9.8M55.1 316.5V332.7M50.2 316.5h9.8M50.2 332.7h9.8M55.1 324.7V340.9M50.2 324.7h9.8M50.2 340.9h9.8M55.1 329.6V345.8M50.2 329.6h9.8M50.2 345.8h9.8M63.1 314.3V329.7M58.2 314.3h9.8M58.2 329.7h9.8M63.1 319V334.4M58.2 319h9.8M58.2 334.4h9.8M63.1 327.7V343.1M58.2 327.7h9.8M58.2 343.1h9.8M66.8 320.1V335.1M61.9 320.1h9.8M61.9 335.1h9.8M66.8 328.8V343.8M61.9 328.8h9.8M61.9 343.8h9.8M66.8 337.6V352.6M61.9 337.6h9.8M61.9 352.6h9.8M74.9 326.8V343.4M70 326.8h9.8M70 343.4h9.8M74.9 331.5V348.1M70 331.5h9.8M70 348.1h9.8M74.9 345.2V361.8M70 345.2h9.8M70 361.8h9.8M78.4 331.3V347.1M73.5 331.3h9.8M73.5 347.1h9.8M78.4 343.9V359.7M73.5 343.9h9.8M73.5 359.7h9.8M86.4 346.6V361.6M81.5 346.6h9.8M81.5 361.6h9.8M86.4 350.8V365.8M81.5 350.8h9.8M81.5 365.8h9.8M86.4 358.8V373.8M81.5 358.8h9.8M81.5 373.8h9.8M90.4 338.4V353.8M85.5 338.4h9.8M85.5 353.8h9.8M90.4 351.6V367M85.5 351.6h9.8M85.5 367h9.8M90.4 355.9V371.3M85.5 355.9h9.8M85.5 371.3h9.8M98.4 355.2V369.6M93.5 355.2h9.8M93.5 369.6h9.8M98.4 364V378.4M93.5 364h9.8M93.5 378.4h9.8M98.4 368.1V382.5M93.5 368.1h9.8M93.5 382.5h9.8M102.1 359.5V373.5M97.2 359.5h9.8M97.2 373.5h9.8M102.1 363.6V377.6M97.2 363.6h9.8M97.2 377.6h9.8M109.9 373.1V387.1M105 373.1h9.8M105 387.1h9.8M109.9 377.2V391.2M105 377.2h9.8M105 391.2h9.8M109.9 381.2V395.2M105 381.2h9.8M105 395.2h9.8M113.7 366.9V381.9M108.8 366.9h9.8M108.8 381.9h9.8M113.7 375.5V390.5M108.8 375.5h9.8M108.8 390.5h9.8M113.7 379.5V394.5M108.8 379.5h9.8M108.8 394.5h9.8M121.6 370.4V385.4M116.7 370.4h9.8M116.7 385.4h9.8M121.6 374.9V389.9M116.7 374.9h9.8M116.7 389.9h9.8M121.6 379V394M116.7 379h9.8M116.7 394h9.8M125.4 379.1V392.1M120.5 379.1h9.8M120.5 392.1h9.8M125.4 383V396M120.5 383h9.8M120.5 396h9.8M133.6 376.9V389.9M128.7 376.9h9.8M128.7 389.9h9.8M133.6 381V394M128.7 381h9.8M128.7 394h9.8M133.6 384.5V397.5M128.7 384.5h9.8M128.7 397.5h9.8M137.1 372.4V387M132.2 372.4h9.8M132.2 387h9.8M137.1 376.8V391.4M132.2 376.8h9.8M132.2 391.4h9.8M137.1 380.7V395.3M132.2 380.7h9.8M132.2 395.3h9.8M145.3 379.7V393.7M140.4 379.7h9.8M140.4 393.7h9.8M145.3 383.6V397.6M140.4 383.6h9.8M140.4 397.6h9.8M148.8 388.8V401.2M143.9 388.8h9.8M143.9 401.2h9.8M148.8 396.1V408.5M143.9 396.1h9.8M143.9 408.5h9.8M156.9 366.3V379.9M152 366.3h9.8M152 379.9h9.8M156.9 373.9V387.5M152 373.9h9.8M152 387.5h9.8M156.9 378V391.6M152 378h9.8M152 391.6h9.8M160.6 378.9V393.7M155.7 378.9h9.8M155.7 393.7h9.8M160.6 387.5V402.3M155.7 387.5h9.8M155.7 402.3h9.8M168.6 370.4V385.2M163.7 370.4h9.8M163.7 385.2h9.8M168.6 374.5V389.3M163.7 374.5h9.8M163.7 389.3h9.8M168.6 378V392.8M163.7 378h9.8M163.7 392.8h9.8M172.4 383.8V396.2M167.5 383.8h9.8M167.5 396.2h9.8M172.4 387.3V399.7M167.5 387.3h9.8M167.5 399.7h9.8M172.4 394V406.4M167.5 394h9.8M167.5 406.4h9.8M180.2 375.4V389.4M175.3 375.4h9.8M175.3 389.4h9.8M183.9 378.9V393.7M179 378.9h9.8M179 393.7h9.8M183.9 386.7V401.5M179 386.7h9.8M179 401.5h9.8M215.8 360.6V374.6M210.9 360.6h9.8M210.9 374.6h9.8M215.8 368.5V382.5M210.9 368.5h9.8M210.9 382.5h9.8M219.3 360.4V374.4M214.4 360.4h9.8M214.4 374.4h9.8M219.3 364.3V378.3M214.4 364.3h9.8M214.4 378.3h9.8M219.3 368.5V382.5M214.4 368.5h9.8M214.4 382.5h9.8M227.5 356.3V370.3M222.6 356.3h9.8M222.6 370.3h9.8M231.2 355V369.4M226.3 355h9.8M226.3 369.4h9.8M231.2 359V373.4M226.3 359h9.8M226.3 373.4h9.8M238.6 344.9V359.9M233.7 344.9h9.8M233.7 359.9h9.8M242.8 344.1V359.3M237.9 344.1h9.8M237.9 359.3h9.8M242.8 352.9V368.1M237.9 352.9h9.8M237.9 368.1h9.8M242.8 356.9V372.1M237.9 356.9h9.8M237.9 372.1h9.8M250.9 328.4V346M246 328.4h9.8M246 346h9.8M250.9 333.1V350.7M246 333.1h9.8M246 350.7h9.8M250.9 342V359.6M246 342h9.8M246 359.6h9.8M254.8 330V346M249.9 330h9.8M249.9 346h9.8M254.8 342.8V358.8M249.9 342.8h9.8M249.9 358.8h9.8M262.5 326.7V340.7M257.6 326.7h9.8M257.6 340.7h9.8M262.5 331V345M257.6 331h9.8M257.6 345h9.8M266.3 329.2V344M261.4 329.2h9.8M261.4 344h9.8M266.3 333.8V348.6M261.4 333.8h9.8M261.4 348.6h9.8M274.5 317.5V334.5M269.6 317.5h9.8M269.6 334.5h9.8M274.5 321.8V338.8M269.6 321.8h9.8M269.6 338.8h9.8M278.2 313.2V329M273.3 313.2h9.8M273.3 329h9.8M278.2 321.5V337.3M273.3 321.5h9.8M273.3 337.3h9.8M286 316.8V332.8M281.1 316.8h9.8M281.1 332.8h9.8M286 320.9V336.9M281.1 320.9h9.8M281.1 336.9h9.8M289.6 314.5V332.1M284.7 314.5h9.8M284.7 332.1h9.8M289.6 318.8V336.4M284.7 318.8h9.8M284.7 336.4h9.8M289.6 323.7V341.3M284.7 323.7h9.8M284.7 341.3h9.8M297.6 315.3V331.3M292.7 315.3h9.8M292.7 331.3h9.8M297.6 319.6V335.6M292.7 319.6h9.8M292.7 335.6h9.8M301.5 311.6V325.6M296.6 311.6h9.8M296.6 325.6h9.8M301.5 315.7V329.7M296.6 315.7h9.8M296.6 329.7h9.8M301.5 328.3V342.3M296.6 328.3h9.8M296.6 342.3h9.8M309.5 302.9V318.1M304.6 302.9h9.8M304.6 318.1h9.8M309.5 315.4V330.6M304.6 315.4h9.8M304.6 330.6h9.8M313.3 319.7V335.5M308.4 319.7h9.8M308.4 335.5h9.8M313.3 328.6V344.4M308.4 328.6h9.8M308.4 344.4h9.8M321.2 312.6V329M316.3 312.6h9.8M316.3 329h9.8M321.2 321.3V337.7M316.3 321.3h9.8M316.3 337.7h9.8M324.9 325.2V340M320 325.2h9.8M320 340h9.8M324.9 329.6V344.4M320 329.6h9.8M320 344.4h9.8M332.8 305.5V320.7M327.9 305.5h9.8M327.9 320.7h9.8M332.8 314.8V330M327.9 314.8h9.8M327.9 330h9.8M336.7 315.5V331.9M331.8 315.5h9.8M331.8 331.9h9.8M336.7 320.2V336.6M331.8 320.2h9.8M331.8 336.6h9.8M336.7 329.8V346.2M331.8 329.8h9.8M331.8 346.2h9.8M344.6 312.4V327.8M339.7 312.4h9.8M339.7 327.8h9.8M344.6 317.1V332.5M339.7 317.1h9.8M339.7 332.5h9.8M344.6 321.6V337M339.7 321.6h9.8M339.7 337h9.8M348.3 326.2V340.2M343.4 326.2h9.8M343.4 340.2h9.8M348.3 342.4V356.4M343.4 342.4h9.8M343.4 356.4h9.8M356.4 324V339.6M351.5 324h9.8M351.5 339.6h9.8M356.4 328.4V344M351.5 328.4h9.8M351.5 344h9.8M360.3 329.8V345.4M355.4 329.8h9.8M355.4 345.4h9.8M360.3 338.9V354.5M355.4 338.9h9.8M355.4 354.5h9.8M368.3 314.4V330M363.4 314.4h9.8M363.4 330h9.8M368.3 327.2V342.8M363.4 327.2h9.8M363.4 342.8h9.8M368.3 331.9V347.5M363.4 331.9h9.8M363.4 347.5h9.8M371.9 327.8V342.2M367 327.8h9.8M367 342.2h9.8M371.9 336.6V351M367 336.6h9.8M367 351h9.8M380 324.8V341.8M375.1 324.8h9.8M375.1 341.8h9.8M380 329.1V346.1M375.1 329.1h9.8M375.1 346.1h9.8M380 333.5V350.5M375.1 333.5h9.8M375.1 350.5h9.8M383.5 355.4V370.6M378.6 355.4h9.8M378.6 370.6h9.8M383.5 359.5V374.7M378.6 359.5h9.8M378.6 374.7h9.8M391.5 334.6V349.4M386.6 334.6h9.8M386.6 349.4h9.8M391.5 339.1V353.9M386.6 339.1h9.8M386.6 353.9h9.8M391.5 343.2V358M386.6 343.2h9.8M386.6 358h9.8M395.4 355.7V369.1M390.5 355.7h9.8M390.5 369.1h9.8M395.4 359.8V373.2M390.5 359.8h9.8M390.5 373.2h9.8M395.4 368V381.4M390.5 368h9.8M390.5 381.4h9.8M403.4 343.2V358.6M398.5 343.2h9.8M398.5 358.6h9.8M403.4 347.7V363.1M398.5 347.7h9.8M398.5 363.1h9.8M403.4 351.8V367.2M398.5 351.8h9.8M398.5 367.2h9.8M407.1 362.8V376.8M402.2 362.8h9.8M402.2 376.8h9.8M407.1 367.1V381.1M402.2 367.1h9.8M402.2 381.1h9.8M407.1 371.2V385.2M402.2 371.2h9.8M402.2 385.2h9.8M415 361.5V375.5M410.1 361.5h9.8M410.1 375.5h9.8M415 365.6V379.6M410.1 365.6h9.8M410.1 379.6h9.8M415 373.6V387.6M410.1 373.6h9.8M410.1 387.6h9.8M418.8 373.4V387.8M413.9 373.4h9.8M413.9 387.8h9.8M418.8 382V396.4M413.9 382h9.8M413.9 396.4h9.8M426.7 362.8V377.6M421.8 362.8h9.8M421.8 377.6h9.8M426.7 371.8V386.6M421.8 371.8h9.8M421.8 386.6h9.8M430.5 371.3V384.9M425.6 371.3h9.8M425.6 384.9h9.8M430.5 378.9V392.5M425.6 378.9h9.8M425.6 392.5h9.8M430.5 386.4V400M425.6 386.4h9.8M425.6 400h9.8M438.4 370.5V383.5M433.5 370.5h9.8M433.5 383.5h9.8M438.4 374.5V387.5M433.5 374.5h9.8M433.5 387.5h9.8M438.4 381.7V394.7M433.5 381.7h9.8M433.5 394.7h9.8M442.4 387.1V400.7M437.5 387.1h9.8M437.5 400.7h9.8M442.4 391.2V404.8M437.5 391.2h9.8M437.5 404.8h9.8M442.4 394.7V408.3M437.5 394.7h9.8M437.5 408.3h9.8M450.2 370.4V384.8M445.3 370.4h9.8M445.3 384.8h9.8M450.2 375V389.4M445.3 375h9.8M445.3 389.4h9.8M450.2 379.2V393.6M445.3 379.2h9.8M445.3 393.6h9.8M454.1 374.6V388.6M449.2 374.6h9.8M449.2 388.6h9.8M454.1 378.7V392.7M449.2 378.7h9.8M449.2 392.7h9.8M456.2 383.4V396.2M451.3 383.4h9.8M451.3 396.2h9.8M456.2 387.5V400.3M451.3 387.5h9.8M451.3 400.3h9.8M456.2 394.5V407.3M451.3 394.5h9.8M451.3 407.3h9.8M462 370.5V383.3M457.1 370.5h9.8M457.1 383.3h9.8M462 374.6V387.4M457.1 374.6h9.8M457.1 387.4h9.8M462 378.7V391.5M457.1 378.7h9.8M457.1 391.5h9.8M473.8 382.2V395.8M468.9 382.2h9.8M468.9 395.8h9.8M473.8 386.6V400.2M468.9 386.6h9.8M468.9 400.2h9.8M485.4 375.8V389.4M480.5 375.8h9.8M480.5 389.4h9.8M485.4 386.6V400.2M480.5 386.6h9.8M480.5 400.2h9.8M497.4 389.5V403.5M492.5 389.5h9.8M492.5 403.5h9.8M532.3 348.5V363.3M527.4 348.5h9.8M527.4 363.3h9.8M532.3 364.9V379.7M527.4 364.9h9.8M527.4 379.7h9.8M543.9 342.8V357.8M539 342.8h9.8M539 357.8h9.8M543.9 347.2V362.2M539 347.2h9.8M539 362.2h9.8M555.6 340.6V356.4M550.7 340.6h9.8M550.7 356.4h9.8M555.6 345V360.8M550.7 345h9.8M550.7 360.8h9.8M567.6 325.4V340.2M562.7 325.4h9.8M562.7 340.2h9.8M567.6 329.6V344.4M562.7 329.6h9.8M562.7 344.4h9.8M579.4 302V318.8M574.5 302h9.8M574.5 318.8h9.8M579.4 315.4V332.2M574.5 315.4h9.8M574.5 332.2h9.8M590.9 302.6V318.6M586 302.6h9.8M586 318.6h9.8M590.9 307.2V323.2M586 307.2h9.8M586 323.2h9.8M590.9 311.1V327.1M586 311.1h9.8M586 327.1h9.8M602.7 282.3V300.7M597.8 282.3h9.8M597.8 300.7h9.8M602.7 287.1V305.5M597.8 287.1h9.8M597.8 305.5h9.8M614.6 299V314.6M609.7 299h9.8M609.7 314.6h9.8M614.6 303.4V319M609.7 303.4h9.8M609.7 319h9.8M614.6 307.2V322.8M609.7 307.2h9.8M609.7 322.8h9.8M626.1 282.2V299.8M621.2 282.2h9.8M621.2 299.8h9.8M626.1 287V304.6M621.2 287h9.8M621.2 304.6h9.8M637.9 288.1V304.5M633 288.1h9.8M633 304.5h9.8M637.9 293V309.4M633 293h9.8M633 309.4h9.8M637.9 296.8V313.2M633 296.8h9.8M633 313.2h9.8M649.8 300.6V317.2M644.9 300.6h9.8M644.9 317.2h9.8M649.8 304.6V321.2M644.9 304.6h9.8M644.9 321.2h9.8M649.8 314.3V330.9M644.9 314.3h9.8M644.9 330.9h9.8M661.5 306.3V321.7M656.6 306.3h9.8M656.6 321.7h9.8M669.4 328.2V344.2M664.5 328.2h9.8M664.5 344.2h9.8" stroke="#000" stroke-width="0.85" fill="none"/>
<g fill="#000">
<circle cx="51.4" cy="322.3" r="2.8"/>
<circle cx="51.4" cy="327.2" r="2.8"/>
<circle cx="55.1" cy="324.6" r="2.8"/>
<circle cx="55.1" cy="332.8" r="2.8"/>
<circle cx="55.1" cy="337.7" r="2.8"/>
<circle cx="63.1" cy="322" r="2.8"/>
<circle cx="63.1" cy="326.7" r="2.8"/>
<circle cx="63.1" cy="335.4" r="2.8"/>
<circle cx="66.8" cy="327.6" r="2.8"/>
<circle cx="66.8" cy="336.3" r="2.8"/>
<circle cx="66.8" cy="345.1" r="2.8"/>
<circle cx="74.9" cy="335.1" r="2.8"/>
<circle cx="74.9" cy="339.8" r="2.8"/>
<circle cx="74.9" cy="353.5" r="2.8"/>
<circle cx="78.4" cy="339.2" r="2.8"/>
<circle cx="78.4" cy="351.8" r="2.8"/>
<circle cx="86.4" cy="354.1" r="2.8"/>
<circle cx="86.4" cy="358.3" r="2.8"/>
<circle cx="86.4" cy="366.3" r="2.8"/>
<circle cx="90.4" cy="346.1" r="2.8"/>
<circle cx="90.4" cy="359.3" r="2.8"/>
<circle cx="90.4" cy="363.6" r="2.8"/>
<circle cx="98.4" cy="362.4" r="2.8"/>
<circle cx="98.4" cy="371.2" r="2.8"/>
<circle cx="98.4" cy="375.3" r="2.8"/>
<circle cx="102.1" cy="366.5" r="2.8"/>
<circle cx="102.1" cy="370.6" r="2.8"/>
<circle cx="109.9" cy="380.1" r="2.8"/>
<circle cx="109.9" cy="384.2" r="2.8"/>
<circle cx="109.9" cy="388.2" r="2.8"/>
<circle cx="113.7" cy="374.4" r="2.8"/>
<circle cx="113.7" cy="383" r="2.8"/>
<circle cx="113.7" cy="387" r="2.8"/>
<circle cx="121.6" cy="377.9" r="2.8"/>
<circle cx="121.6" cy="382.4" r="2.8"/>
<circle cx="121.6" cy="386.5" r="2.8"/>
<circle cx="125.4" cy="385.6" r="2.8"/>
<circle cx="125.4" cy="389.5" r="2.8"/>
<circle cx="133.6" cy="383.4" r="2.8"/>
<circle cx="133.6" cy="387.5" r="2.8"/>
<circle cx="133.6" cy="391" r="2.8"/>
<circle cx="137.1" cy="379.7" r="2.8"/>
<circle cx="137.1" cy="384.1" r="2.8"/>
<circle cx="137.1" cy="388" r="2.8"/>
<circle cx="145.3" cy="386.7" r="2.8"/>
<circle cx="145.3" cy="390.6" r="2.8"/>
<circle cx="148.8" cy="395" r="2.8"/>
<circle cx="148.8" cy="402.3" r="2.8"/>
<circle cx="156.9" cy="373.1" r="2.8"/>
<circle cx="156.9" cy="380.7" r="2.8"/>
<circle cx="156.9" cy="384.8" r="2.8"/>
<circle cx="160.6" cy="386.3" r="2.8"/>
<circle cx="160.6" cy="394.9" r="2.8"/>
<circle cx="168.6" cy="377.8" r="2.8"/>
<circle cx="168.6" cy="381.9" r="2.8"/>
<circle cx="168.6" cy="385.4" r="2.8"/>
<circle cx="172.4" cy="390" r="2.8"/>
<circle cx="172.4" cy="393.5" r="2.8"/>
<circle cx="172.4" cy="400.2" r="2.8"/>
<circle cx="180.2" cy="382.4" r="2.8"/>
<circle cx="183.9" cy="386.3" r="2.8"/>
<circle cx="183.9" cy="394.1" r="2.8"/>
<circle cx="215.8" cy="367.6" r="2.8"/>
<circle cx="215.8" cy="375.5" r="2.8"/>
<circle cx="219.3" cy="367.4" r="2.8"/>
<circle cx="219.3" cy="371.3" r="2.8"/>
<circle cx="219.3" cy="375.5" r="2.8"/>
<circle cx="227.5" cy="363.3" r="2.8"/>
<circle cx="231.2" cy="362.2" r="2.8"/>
<circle cx="231.2" cy="366.2" r="2.8"/>
<circle cx="238.6" cy="352.4" r="2.8"/>
<circle cx="242.8" cy="351.7" r="2.8"/>
<circle cx="242.8" cy="360.5" r="2.8"/>
<circle cx="242.8" cy="364.5" r="2.8"/>
<circle cx="250.9" cy="337.2" r="2.8"/>
<circle cx="250.9" cy="341.9" r="2.8"/>
<circle cx="250.9" cy="350.8" r="2.8"/>
<circle cx="254.8" cy="338" r="2.8"/>
<circle cx="254.8" cy="350.8" r="2.8"/>
<circle cx="262.5" cy="333.7" r="2.8"/>
<circle cx="262.5" cy="338" r="2.8"/>
<circle cx="266.3" cy="336.6" r="2.8"/>
<circle cx="266.3" cy="341.2" r="2.8"/>
<circle cx="274.5" cy="326" r="2.8"/>
<circle cx="274.5" cy="330.3" r="2.8"/>
<circle cx="278.2" cy="321.1" r="2.8"/>
<circle cx="278.2" cy="329.4" r="2.8"/>
<circle cx="286" cy="324.8" r="2.8"/>
<circle cx="286" cy="328.9" r="2.8"/>
<circle cx="289.6" cy="323.3" r="2.8"/>
<circle cx="289.6" cy="327.6" r="2.8"/>
<circle cx="289.6" cy="332.5" r="2.8"/>
<circle cx="297.6" cy="323.3" r="2.8"/>
<circle cx="297.6" cy="327.6" r="2.8"/>
<circle cx="301.5" cy="318.6" r="2.8"/>
<circle cx="301.5" cy="322.7" r="2.8"/>
<circle cx="301.5" cy="335.3" r="2.8"/>
<circle cx="309.5" cy="310.5" r="2.8"/>
<circle cx="309.5" cy="323" r="2.8"/>
<circle cx="313.3" cy="327.6" r="2.8"/>
<circle cx="313.3" cy="336.5" r="2.8"/>
<circle cx="321.2" cy="320.8" r="2.8"/>
<circle cx="321.2" cy="329.5" r="2.8"/>
<circle cx="324.9" cy="332.6" r="2.8"/>
<circle cx="324.9" cy="337" r="2.8"/>
<circle cx="332.8" cy="313.1" r="2.8"/>
<circle cx="332.8" cy="322.4" r="2.8"/>
<circle cx="336.7" cy="323.7" r="2.8"/>
<circle cx="336.7" cy="328.4" r="2.8"/>
<circle cx="336.7" cy="338" r="2.8"/>
<circle cx="344.6" cy="320.1" r="2.8"/>
<circle cx="344.6" cy="324.8" r="2.8"/>
<circle cx="344.6" cy="329.3" r="2.8"/>
<circle cx="348.3" cy="333.2" r="2.8"/>
<circle cx="348.3" cy="349.4" r="2.8"/>
<circle cx="356.4" cy="331.8" r="2.8"/>
<circle cx="356.4" cy="336.2" r="2.8"/>
<circle cx="360.3" cy="337.6" r="2.8"/>
<circle cx="360.3" cy="346.7" r="2.8"/>
<circle cx="368.3" cy="322.2" r="2.8"/>
<circle cx="368.3" cy="335" r="2.8"/>
<circle cx="368.3" cy="339.7" r="2.8"/>
<circle cx="371.9" cy="335" r="2.8"/>
<circle cx="371.9" cy="343.8" r="2.8"/>
<circle cx="380" cy="333.3" r="2.8"/>
<circle cx="380" cy="337.6" r="2.8"/>
<circle cx="380" cy="342" r="2.8"/>
<circle cx="383.5" cy="363" r="2.8"/>
<circle cx="383.5" cy="367.1" r="2.8"/>
<circle cx="391.5" cy="342" r="2.8"/>
<circle cx="391.5" cy="346.5" r="2.8"/>
<circle cx="391.5" cy="350.6" r="2.8"/>
<circle cx="395.4" cy="362.4" r="2.8"/>
<circle cx="395.4" cy="366.5" r="2.8"/>
<circle cx="395.4" cy="374.7" r="2.8"/>
<circle cx="403.4" cy="350.9" r="2.8"/>
<circle cx="403.4" cy="355.4" r="2.8"/>
<circle cx="403.4" cy="359.5" r="2.8"/>
<circle cx="407.1" cy="369.8" r="2.8"/>
<circle cx="407.1" cy="374.1" r="2.8"/>
<circle cx="407.1" cy="378.2" r="2.8"/>
<circle cx="415" cy="368.5" r="2.8"/>
<circle cx="415" cy="372.6" r="2.8"/>
<circle cx="415" cy="380.6" r="2.8"/>
<circle cx="418.8" cy="380.6" r="2.8"/>
<circle cx="418.8" cy="389.2" r="2.8"/>
<circle cx="426.7" cy="370.2" r="2.8"/>
<circle cx="426.7" cy="379.2" r="2.8"/>
<circle cx="430.5" cy="378.1" r="2.8"/>
<circle cx="430.5" cy="385.7" r="2.8"/>
<circle cx="430.5" cy="393.2" r="2.8"/>
<circle cx="438.4" cy="377" r="2.8"/>
<circle cx="438.4" cy="381" r="2.8"/>
<circle cx="438.4" cy="388.2" r="2.8"/>
<circle cx="442.4" cy="393.9" r="2.8"/>
<circle cx="442.4" cy="398" r="2.8"/>
<circle cx="442.4" cy="401.5" r="2.8"/>
<circle cx="450.2" cy="377.6" r="2.8"/>
<circle cx="450.2" cy="382.2" r="2.8"/>
<circle cx="450.2" cy="386.4" r="2.8"/>
<circle cx="454.1" cy="381.6" r="2.8"/>
<circle cx="454.1" cy="385.7" r="2.8"/>
<circle cx="456.2" cy="389.8" r="2.8"/>
<circle cx="456.2" cy="393.9" r="2.8"/>
<circle cx="456.2" cy="400.9" r="2.8"/>
<circle cx="462" cy="376.9" r="2.8"/>
<circle cx="462" cy="381" r="2.8"/>
<circle cx="462" cy="385.1" r="2.8"/>
<circle cx="473.8" cy="389" r="2.8"/>
<circle cx="473.8" cy="393.4" r="2.8"/>
<circle cx="485.4" cy="382.6" r="2.8"/>
<circle cx="485.4" cy="393.4" r="2.8"/>
<circle cx="497.4" cy="396.5" r="2.8"/>
<circle cx="532.3" cy="355.9" r="2.8"/>
<circle cx="532.3" cy="372.3" r="2.8"/>
<circle cx="543.9" cy="350.3" r="2.8"/>
<circle cx="543.9" cy="354.7" r="2.8"/>
<circle cx="555.6" cy="348.5" r="2.8"/>
<circle cx="555.6" cy="352.9" r="2.8"/>
<circle cx="567.6" cy="332.8" r="2.8"/>
<circle cx="567.6" cy="337" r="2.8"/>
<circle cx="579.4" cy="310.4" r="2.8"/>
<circle cx="579.4" cy="323.8" r="2.8"/>
<circle cx="590.9" cy="310.6" r="2.8"/>
<circle cx="590.9" cy="315.2" r="2.8"/>
<circle cx="590.9" cy="319.1" r="2.8"/>
<circle cx="602.7" cy="291.5" r="2.8"/>
<circle cx="602.7" cy="296.3" r="2.8"/>
<circle cx="614.6" cy="306.8" r="2.8"/>
<circle cx="614.6" cy="311.2" r="2.8"/>
<circle cx="614.6" cy="315" r="2.8"/>
<circle cx="626.1" cy="291" r="2.8"/>
<circle cx="626.1" cy="295.8" r="2.8"/>
<circle cx="637.9" cy="296.3" r="2.8"/>
<circle cx="637.9" cy="301.2" r="2.8"/>
<circle cx="637.9" cy="305" r="2.8"/>
<circle cx="649.8" cy="308.9" r="2.8"/>
<circle cx="649.8" cy="312.9" r="2.8"/>
<circle cx="649.8" cy="322.6" r="2.8"/>
<circle cx="661.5" cy="314" r="2.8"/>
<circle cx="669.4" cy="336.2" r="2.8"/>
</g>
<g fill="#000"><circle cx="103.9" cy="288.1" r="4"/><circle cx="103.9" cy="299.6" r="4"/><rect x="102.9" y="288" width="2" height="11"/><rect x="103.9" y="293.2" width="3" height="1"/></g>
<g fill="#000"><circle cx="120.1" cy="288.1" r="4"/><circle cx="120.1" cy="299.6" r="4"/><rect x="119.1" y="288" width="2" height="11"/><rect x="120.1" y="293.2" width="3" height="1"/></g>
<g fill="#000"><circle cx="413" cy="288.1" r="4"/><circle cx="413" cy="299.6" r="4"/><rect x="412" y="288" width="2" height="11"/><rect x="413" y="293.2" width="3" height="1"/></g>
<g fill="#000"><circle cx="429.2" cy="288.1" r="4"/><circle cx="429.2" cy="299.6" r="4"/><rect x="428.2" y="288" width="2" height="11"/><rect x="429.2" y="293.2" width="3" height="1"/></g>
<path d="M103.8 306V342.7" stroke="#f9a52b" stroke-width="0.75" fill="none"/><path d="M101.8 342.1h4l-2 4.6z" fill="#f9a52b"/>
<path d="M120.2 306V342.7" stroke="#1d8c4a" stroke-width="0.75" fill="none"/><path d="M118.2 342.1h4l-2 4.6z" fill="#1d8c4a"/>
<path d="M413 306V342.7" stroke="#f9a52b" stroke-width="0.75" fill="none"/><path d="M411 342.1h4l-2 4.6z" fill="#f9a52b"/>
<path d="M429.2 306V342.7" stroke="#1d8c4a" stroke-width="0.75" fill="none"/><path d="M427.2 342.1h4l-2 4.6z" fill="#1d8c4a"/>
<path d="M207.3 306V342.7" stroke="#f9a52b" stroke-width="0.75" fill="none"/><path d="M205.3 342.1h4l-2 4.6z" fill="#f9a52b"/>
<path d="M516.1 306V342.7" stroke="#f9a52b" stroke-width="0.75" fill="none"/><path d="M514.1 342.1h4l-2 4.6z" fill="#f9a52b"/>
<circle cx="207.1" cy="297.9" r="4.8" fill="#f4e814" stroke="#111" stroke-width="0.95"/><rect x="206.1" y="296.9" width="2" height="2" fill="#000"/>
<circle cx="516" cy="297.9" r="4.8" fill="#f4e814" stroke="#111" stroke-width="0.95"/><rect x="515" y="296.9" width="2" height="2" fill="#000"/>
<path d="M325.8 426.5V389.5" stroke="#1d8c4a" stroke-width="0.75" fill="none"/><path d="M323.8 390.1h4l-2 -4.6z" fill="#1d8c4a"/>
<path d="M635 426.5V389.5" stroke="#1d8c4a" stroke-width="0.75" fill="none"/><path d="M633 390.1h4l-2 -4.6z" fill="#1d8c4a"/>
<circle cx="325.8" cy="434.3" r="4.8" fill="#f4e814" stroke="#111" stroke-width="0.95"/><rect x="324.8" y="433.3" width="2" height="2" fill="#000"/>
<circle cx="635" cy="434.3" r="4.8" fill="#f4e814" stroke="#111" stroke-width="0.95"/><rect x="634" y="433.3" width="2" height="2" fill="#000"/>
<path d="M51.2 414.2H66.6" stroke="#1d8c4a" stroke-width="1.3"/>
<path d="M51.2 442.5H66.6" stroke="#f9a52b" stroke-width="1.3"/>
<g font-size="9.5"><text x="70.4" y="418.7" textLength="44.6" lengthAdjust="spacingAndGlyphs">Selam in a</text><text x="70.4" y="430.4" textLength="61" lengthAdjust="spacingAndGlyphs">prograde orbit</text><text x="70.4" y="446.9" textLength="44.6" lengthAdjust="spacingAndGlyphs">Selam in a</text><text x="70.4" y="458.9" textLength="66.5" lengthAdjust="spacingAndGlyphs">retrograde orbit</text></g>
</svg></body></html>
